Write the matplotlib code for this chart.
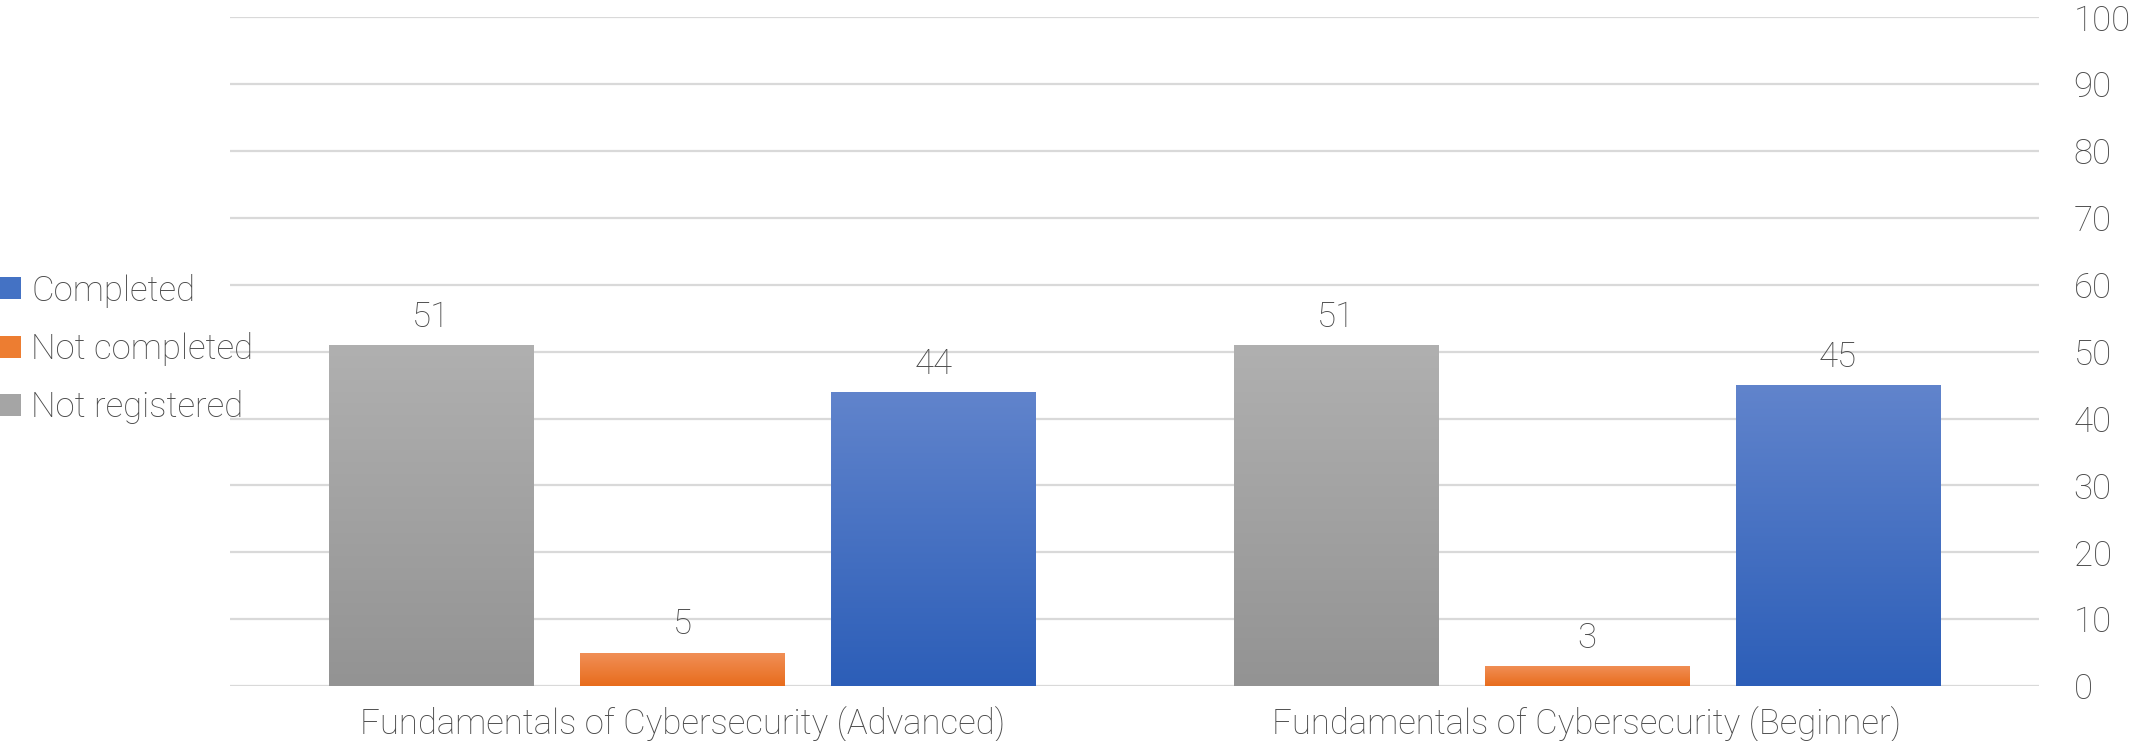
import matplotlib
matplotlib.use("Agg")
import matplotlib.pyplot as plt
import numpy as np
from matplotlib.colors import LinearSegmentedColormap
from matplotlib.patches import Patch

# ---- data ----
categories = ["Fundamentals of Cybersecurity (Advanced)",
              "Fundamentals of Cybersecurity (Beginner)"]
series_names = ["Not registered", "Not completed", "Completed"]
not_registered = [51, 51]
not_completed = [5, 3]
completed = [44, 45]
y_ticks = [0, 10, 20, 30, 40, 50, 60, 70, 80, 90, 100]

# ---- style ----
plt.rcParams["font.family"] = ["Roboto", "DejaVu Sans"]
plt.rcParams["font.weight"] = "light"
text_color = "#4a4a4a"
grid_color = "#d9d9d9"
fs = 25

grads = {
    "Not registered": ("#b0b0b0", "#939393", "#a5a5a5"),
    "Not completed": ("#f19058", "#e86c1c", "#ed7d31"),
    "Completed": ("#6184cc", "#2c5eb8", "#4472c4"),
}

fig = plt.figure(figsize=(21.36, 7.41), dpi=100)
ax = fig.add_axes([230 / 2136, 1 - 686 / 741, (2039 - 230) / 2136, (686 - 17.3) / 741])

x = np.arange(len(categories))
width = 0.226
offset = 0.2775
series = [not_registered, not_completed, completed]

for i, (name, vals) in enumerate(zip(series_names, series)):
    top, bot, mid = grads[name]
    cmap = LinearSegmentedColormap.from_list(name, [bot, top])
    bars = ax.bar(x + (i - 1) * offset, vals, width, color=mid, zorder=2, linewidth=0)
    for b, v in zip(bars, vals):
        bx, by = b.get_x(), b.get_y()
        bw, bh = b.get_width(), b.get_height()
        grad = np.linspace(0, 1, 256).reshape(-1, 1)
        im = ax.imshow(grad, extent=[bx, bx + bw, by, by + bh], origin="lower",
                       aspect="auto", cmap=cmap, zorder=2.5, interpolation="bicubic")
        im.set_clip_path(b)
        ax.annotate(str(v), (bx + bw / 2, by + bh), xytext=(0, 8),
                    textcoords="offset points", ha="center", va="bottom",
                    fontsize=fs, color=text_color)

ax.set_xlim(-0.5, len(categories) - 0.5)
ax.set_ylim(0, 100)
ax.set_yticks(y_ticks)
ax.yaxis.tick_right()
ax.tick_params(axis="y", length=0, pad=25, labelsize=fs, labelcolor=text_color)
ax.set_xticks(x)
ax.set_xticklabels(categories)
ax.tick_params(axis="x", length=0, pad=15, labelsize=fs, labelcolor=text_color)
ax.grid(axis="y", color=grid_color, linewidth=1.6, zorder=0)
ax.set_axisbelow(True)
for s in ax.spines.values():
    s.set_visible(False)

handles = [Patch(facecolor=grads[n][2]) for n in ["Completed", "Not completed", "Not registered"]]
leg = fig.legend(handles, ["Completed", "Not completed", "Not registered"],
                 loc="center left", bbox_to_anchor=(0.0, 1 - 349 / 741),
                 frameon=False, fontsize=fs, labelcolor=text_color,
                 handlelength=0.6, handleheight=0.6, handletextpad=0.3,
                 labelspacing=0.7, borderpad=0, borderaxespad=0)

fig.savefig("out.png", dpi=100)
